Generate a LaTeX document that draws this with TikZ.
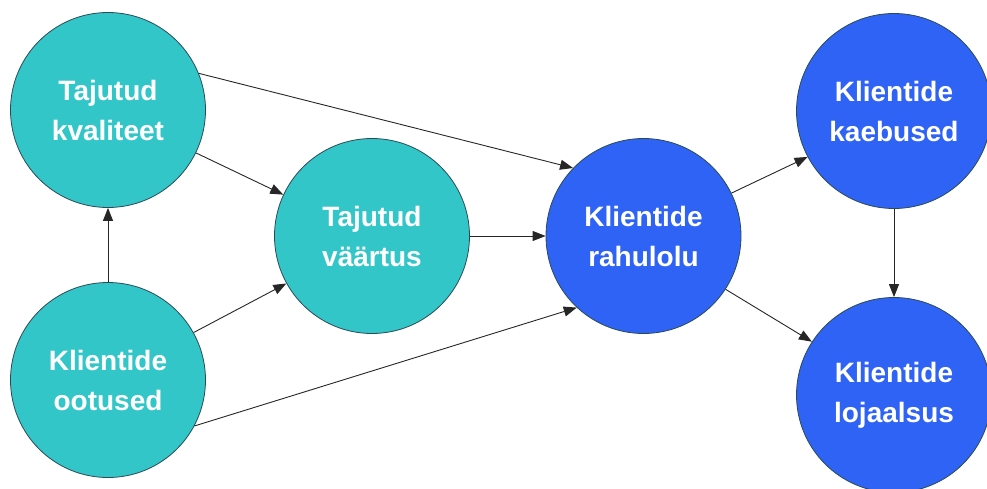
\documentclass[tikz,border=0pt]{standalone}
\usepackage{fontspec}
\setmainfont{Liberation Sans}
\usetikzlibrary{arrows.meta}
\definecolor{tealfill}{HTML}{33C6C9}
\definecolor{bluefill}{HTML}{2F63F5}
\definecolor{rimline}{HTML}{2A4A55}
\tikzset{
  factor/.style={circle, draw=rimline, line width=0.8pt, minimum size=195pt,
    inner sep=0pt, align=center, text=white,
    font=\fontsize{28}{40}\selectfont\bfseries},
  inner factor/.style={factor, fill=tealfill},
  outer factor/.style={factor, fill=bluefill},
  link/.style={draw=black!85, line width=0.9pt,
    -{Triangle[length=13pt,width=10pt]}}
}
\begin{document}
\begin{tikzpicture}[x=1pt, y=-1pt]
\useasboundingbox (0,0) rectangle (987,488);
% antecedents
\node[inner factor] (kval) at (108,110) {Tajutud\\kvaliteet};
\node[inner factor] (oot)  at (108,380) {Klientide\\ootused};
\node[inner factor] (vaar) at (372,236) {Tajutud\\väärtus};
% satisfaction and its outcomes
\node[outer factor] (rahu) at (643.5,236) {Klientide\\rahulolu};
\node[outer factor] (kaeb) at (894,111) {Klientide\\kaebused};
\node[outer factor] (loja) at (894,395) {Klientide\\lojaalsus};
% causal links
\draw[link] (oot.90)   -- (kval.-90);
\draw[link] (kval.22)  -- (rahu.136);
\draw[link] (kval.-26) -- (vaar.155);
\draw[link] (oot.29)   -- (vaar.209);
\draw[link] (oot.-28)  -- (rahu.227);
\draw[link] (vaar.0)   -- (rahu.180);
\draw[link] (rahu.26)  -- (kaeb.208);
\draw[link] (rahu.-33) -- (loja.147);
\draw[link] (kaeb.-90) -- (loja.90);
\end{tikzpicture}
\end{document}
